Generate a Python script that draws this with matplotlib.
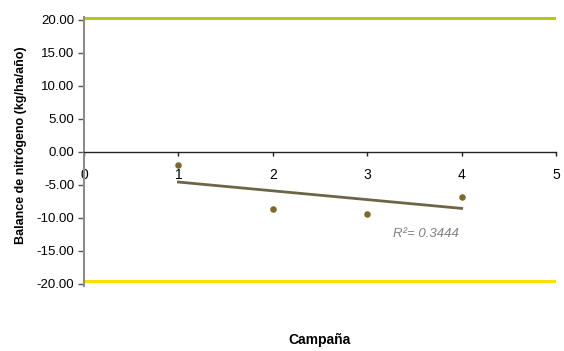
import matplotlib
matplotlib.use("Agg")
import matplotlib.pyplot as plt

plt.rcParams['font.family'] = ['Liberation Sans', 'DejaVu Sans']

# data
campaign = [1, 2, 3, 4]
balance = [-2.0, -8.65, -9.5, -6.9]
trend_x = [1, 4]
trend_y = [-4.6, -8.6]
upper_limit = 20.35
lower_limit = -19.65
x_ticks = [0, 1, 2, 3, 4, 5]
y_ticks = [20, 15, 10, 5, 0, -5, -10, -15, -20]

fig = plt.figure(figsize=(5.64, 3.51), dpi=100)
ax = fig.add_axes([0.149, 0.1838, 0.837, 0.7678])
ax.set_xlim(0, 5)
ax.set_ylim(-20.45, 20.45)

ax.axhline(upper_limit, color='#b4c81a', lw=2.2, zorder=2)
ax.axhline(lower_limit, color='#ffdd00', lw=2.2, zorder=2)
ax.plot(trend_x, trend_y, color='#6b6648', lw=2.0, zorder=3)
ax.scatter(campaign, balance, s=22, color='#7b6a28', zorder=4, linewidths=0)
ax.text(3.27, -12.5, "R²= 0.3444", fontsize=9.5, style='italic', color='#808080',
        va='center', ha='left')

for s in ['top', 'right']:
    ax.spines[s].set_visible(False)
ax.spines['left'].set_color('#8c8c8c')
ax.spines['left'].set_linewidth(1.5)
ax.spines['bottom'].set_position(('data', 0))
ax.spines['bottom'].set_color('#222222')
ax.spines['bottom'].set_linewidth(1.0)

ax.set_yticks(y_ticks)
ax.set_yticklabels([f"{v:.2f}" for v in y_ticks])
ax.set_xticks(x_ticks)
ax.set_xticklabels([str(v) for v in x_ticks])
ax.tick_params(axis='y', direction='out', length=4, width=1, color='#555555', labelsize=9.5, pad=3)
ax.tick_params(axis='x', direction='out', length=3, width=1, color='#222222', labelsize=10, pad=9)

fig.text(0.037, 0.585, "Balance de nitrógeno (kg/ha/año)", rotation=90, fontsize=9,
         fontweight='bold', ha='center', va='center')
fig.text(0.567, 0.03, "Campaña", fontsize=10, fontweight='bold', ha='center', va='center')

fig.savefig("out.png", dpi=100)
